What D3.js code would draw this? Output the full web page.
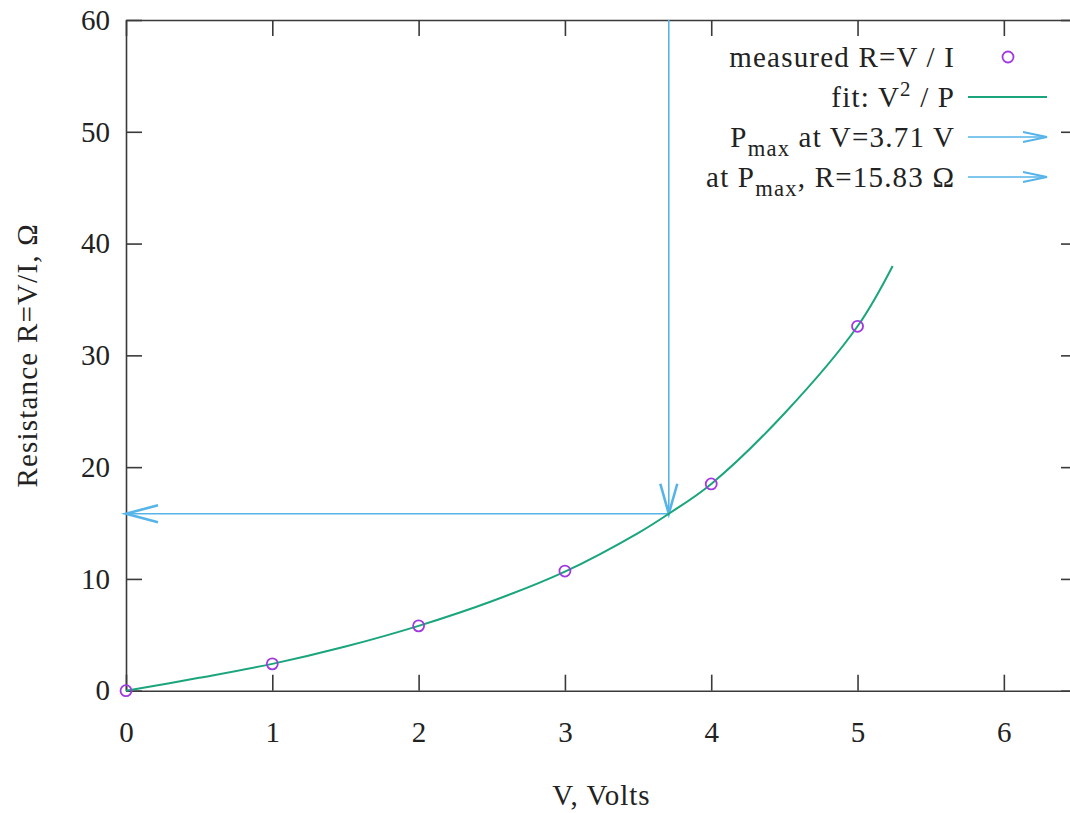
<!DOCTYPE html>
<html>
<head>
<meta charset="utf-8">
<script src="https://cdn.jsdelivr.net/npm/d3@7"></script>
<style>
  body { margin: 0; background: #fff; }
  svg text { font-family: "Liberation Serif", serif; fill: #222; }
</style>
</head>
<body>
<svg id="chart" width="1070" height="813"></svg>
<script>
// measured points
var measV = [0, 1, 2, 3, 4, 5];
var measR = [0, 2.4, 5.8, 10.7, 18.5, 32.6];

// fit curve V^2/P
var fitV = [0, 0.5, 1, 1.5, 2, 2.5, 3, 3.5, 3.71, 4, 4.5, 5, 5.24];
var fitR = [0, 1.15, 2.4, 3.95, 5.8, 8.0, 10.65, 14.1, 15.83, 18.5, 24.8, 32.6, 38.0];

// Pmax marker
var pmaxV = 3.71;
var pmaxR = 15.83;

var xTicks = [0, 1, 2, 3, 4, 5, 6];
var yTicks = [0, 10, 20, 30, 40, 50, 60];

var margin = {left: 126, top: 20, right: 1077, bottom: 690.7};
var violet = "#a03ae0", green = "#1aa57c", blue = "#56b4e9";
var fs = 29;

var svg = d3.select("#chart");

var x = d3.scaleLinear().domain([0, 6.5]).range([margin.left, margin.right]);
var y = d3.scaleLinear().domain([0, 60]).range([margin.bottom, margin.top]);

function styleAxis(g) {
  g.selectAll("path.domain").attr("stroke", "#3a3a3a").attr("stroke-width", 1.6);
  g.selectAll(".tick line").attr("stroke", "#3a3a3a").attr("stroke-width", 1.6);
  g.selectAll(".tick text").attr("font-size", fs).attr("font-family", "Liberation Serif").attr("fill", "#222");
}

// axes, ticks inward and mirrored
svg.append("g")
  .attr("transform", "translate(0," + margin.bottom + ")")
  .call(d3.axisBottom(x).tickValues(xTicks).tickSize(-16).tickSizeOuter(0).tickPadding(31).tickFormat(d3.format("d")))
  .call(styleAxis);

svg.append("g")
  .attr("transform", "translate(" + margin.left + ",0)")
  .call(d3.axisLeft(y).tickValues(yTicks).tickSize(-16).tickSizeOuter(0).tickPadding(16).tickFormat(d3.format("d")))
  .call(styleAxis);

svg.append("g")
  .attr("transform", "translate(0," + margin.top + ")")
  .call(d3.axisTop(x).tickValues(xTicks).tickSize(-16).tickSizeOuter(0).tickFormat(""))
  .call(styleAxis);

svg.append("g")
  .attr("transform", "translate(" + margin.right + ",0)")
  .call(d3.axisRight(y).tickValues(yTicks).tickSize(-16).tickSizeOuter(0).tickFormat(""))
  .call(styleAxis);

// axis titles
svg.append("text")
  .attr("transform", "translate(27," + ((margin.top + margin.bottom) / 2) + ") rotate(-90)")
  .attr("text-anchor", "middle")
  .attr("dominant-baseline", "central")
  .attr("font-size", fs)
  .attr("letter-spacing", 1.2)
  .text("Resistance R=V/I, Ω");

svg.append("text")
  .attr("x", (margin.left + margin.right) / 2)
  .attr("y", 795)
  .attr("text-anchor", "middle")
  .attr("dominant-baseline", "central")
  .attr("font-size", fs)
  .attr("letter-spacing", 1)
  .text("V, Volts");

// arrow with open head, gnuplot style
function arrow(g, x1, y1, x2, y2, len, half, w) {
  g.append("line").attr("x1", x1).attr("y1", y1).attr("x2", x2).attr("y2", y2)
    .attr("stroke", blue).attr("stroke-width", 1.6);
  var a = Math.atan2(y2 - y1, x2 - x1);
  var bx = x2 - len * Math.cos(a), by = y2 - len * Math.sin(a);
  var px = -Math.sin(a) * half, py = Math.cos(a) * half;
  g.append("path")
    .attr("d", "M" + (bx + px) + "," + (by + py) + "L" + x2 + "," + y2 + "L" + (bx - px) + "," + (by - py))
    .attr("fill", "none").attr("stroke", blue).attr("stroke-width", w || 2.6)
    .attr("stroke-linejoin", "miter");
}

var marks = svg.append("g");
arrow(marks, x(pmaxV), y(60), x(pmaxV), y(pmaxR), 30, 8.5);
arrow(marks, x(pmaxV), y(pmaxR), x(0), y(pmaxR), 32, 8.5);

// fit curve
var fitData = fitV.map(function (v, i) { return [v, fitR[i]]; });
svg.append("path")
  .datum(fitData)
  .attr("fill", "none")
  .attr("stroke", green)
  .attr("stroke-width", 2)
  .attr("d", d3.line().x(function (d) { return x(d[0]); }).y(function (d) { return y(d[1]); }).curve(d3.curveCatmullRom.alpha(0.5)));

// measured points
svg.append("g").selectAll("circle")
  .data(measV.map(function (v, i) { return [v, measR[i]]; }))
  .join("circle")
  .attr("cx", function (d) { return x(d[0]); })
  .attr("cy", function (d) { return y(d[1]); })
  .attr("r", 5.5)
  .attr("fill", "none")
  .attr("stroke", violet)
  .attr("stroke-width", 1.8);

// legend
var legX = 954, legS1 = 968, legS2 = 1047;
var legY = [57, 97, 137, 177];
var leg = svg.append("g").attr("font-size", fs).attr("text-anchor", "end").attr("letter-spacing", 1.2);

function legText(i) {
  return leg.append("text").attr("x", legX + 1.2).attr("y", legY[i]).attr("dy", "0.33em");
}

legText(0).text("measured R=V / I");
leg.append("circle").attr("cx", 1008).attr("cy", legY[0]).attr("r", 5.5)
  .attr("fill", "none").attr("stroke", violet).attr("stroke-width", 1.8);

var t1 = legText(1);
t1.append("tspan").text("fit: V");
t1.append("tspan").attr("dy", -11).attr("font-size", fs * 0.72).text("2");
t1.append("tspan").attr("dy", 11).text(" / P");
leg.append("line").attr("x1", legS1).attr("x2", legS2).attr("y1", legY[1]).attr("y2", legY[1])
  .attr("stroke", green).attr("stroke-width", 2);

var t2 = legText(2);
t2.append("tspan").text("P");
t2.append("tspan").attr("dy", 9).attr("font-size", fs * 0.78).text("max");
t2.append("tspan").attr("dy", -9).text(" at V=3.71 V");
arrow(leg, legS1, legY[2], legS2, legY[2], 24, 5, 1.8);

var t3 = legText(3);
t3.append("tspan").text("at P");
t3.append("tspan").attr("dy", 9).attr("font-size", fs * 0.78).text("max");
t3.append("tspan").attr("dy", -9).text(", R=15.83 Ω");
arrow(leg, legS1, legY[3], legS2, legY[3], 24, 5, 1.8);
</script>
</body>
</html>
